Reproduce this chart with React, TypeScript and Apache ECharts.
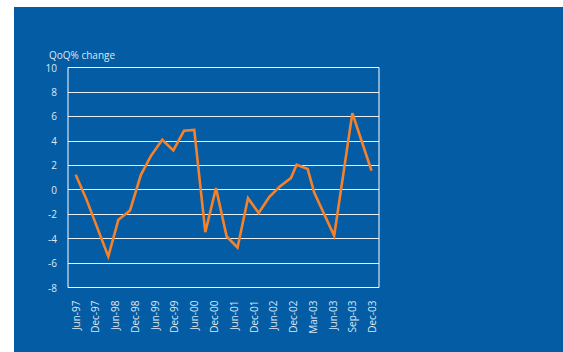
import React, { useEffect, useRef } from "react";
import * as echarts from "echarts";

const categories = [
  "Jun-97", "Dec-97", "Jun-98", "Dec-98", "Jun-99", "Dec-99", "Jun-00", "Dec-00",
  "Jun-01", "Dec-01", "Jun-02", "Dec-02", "Mar-03", "Jun-03", "Sep-03", "Dec-03",
];

// x position of each point, in units of the label slots (Jun-97 = 0, Dec-03 = 15)
const pointPositions = [
  0, 0.52, 1.65, 2.16, 2.75, 3.3, 3.81, 4.38, 4.94, 5.48, 6.0, 6.56, 7.1,
  7.64, 8.19, 8.72, 9.26, 9.79, 10.33, 10.89, 11.18, 11.74, 12.07, 13.08, 14.0, 14.97,
];
const qoqChange = [
  1.22, -0.69, -5.46, -2.46, -1.7, 1.22, 2.77, 4.08, 3.21, 4.82, 4.9, -3.47, 0.13,
  -3.83, -4.73, -0.69, -1.91, -0.61, 0.26, 0.95, 2.04, 1.69, -0.23, -3.77, 6.27, 1.55,
];

const yMin = -8;
const yMax = 10;
const yStep = 2;

export default function App() {
  const ref = useRef<HTMLDivElement>(null);

  useEffect(() => {
    if (!ref.current) return;
    const chart = echarts.init(ref.current, null, { renderer: "svg" });
    const font = "'Open Sans', 'Noto Sans', sans-serif";
    const labelColor = "#dce8f4";
    chart.setOption({
      animation: false,
      backgroundColor: "transparent",
      textStyle: { fontFamily: font },
      title: {
        text: "QoQ% change",
        left: 44,
        top: 45,
        textStyle: { color: labelColor, fontSize: 10, fontWeight: "normal", fontFamily: font },
      },
      grid: [
        {
          left: 68, top: 67.5, width: 311, height: 220,
          show: true, borderColor: "#ffffff", borderWidth: 1, backgroundColor: "transparent",
        },
        { left: 65.8, top: 67.5, width: 316.2, height: 220 },
      ],
      xAxis: [
        {
          gridIndex: 0, type: "value", min: 0, max: 1, show: false,
        },
        {
          gridIndex: 1, type: "category", data: categories, boundaryGap: true,
          axisLine: { show: false }, axisTick: { show: false }, splitLine: { show: false },
          axisLabel: {
            rotate: 90, margin: 13, color: labelColor, fontSize: 10, fontFamily: font, interval: 0,
          },
        },
        {
          gridIndex: 1, type: "value", min: -0.5, max: 15.5, show: false,
        },
      ],
      yAxis: [
        {
          gridIndex: 0, type: "value", min: yMin, max: yMax, interval: yStep,
          axisLine: { show: false }, axisTick: { show: false },
          splitLine: { show: true, lineStyle: { color: "#ffffff", width: 1, opacity: 0.9 } },
          axisLabel: { margin: 11, color: labelColor, fontSize: 10, fontFamily: font },
        },
        {
          gridIndex: 1, type: "value", min: yMin, max: yMax, show: false,
        },
      ],
      series: [
        {
          type: "line",
          xAxisIndex: 2,
          yAxisIndex: 1,
          data: pointPositions.map((x, i) => [x, qoqChange[i]]),
          showSymbol: false,
          lineStyle: { color: "#f5822a", width: 2.6, join: "miter" },
          itemStyle: { color: "#f5822a" },
        },
      ],
    });
    return () => chart.dispose();
  }, []);

  return (
    <div style={{ position: "fixed", left: 0, top: 0, width: 563, height: 352, background: "#ffffff" }}>
      <div style={{ position: "absolute", left: 14, top: 7, right: 0, bottom: 0, background: "#035ca4" }} />
      <div ref={ref} style={{ position: "absolute", left: 0, top: 0, width: 563, height: 352 }} />
    </div>
  );
}
